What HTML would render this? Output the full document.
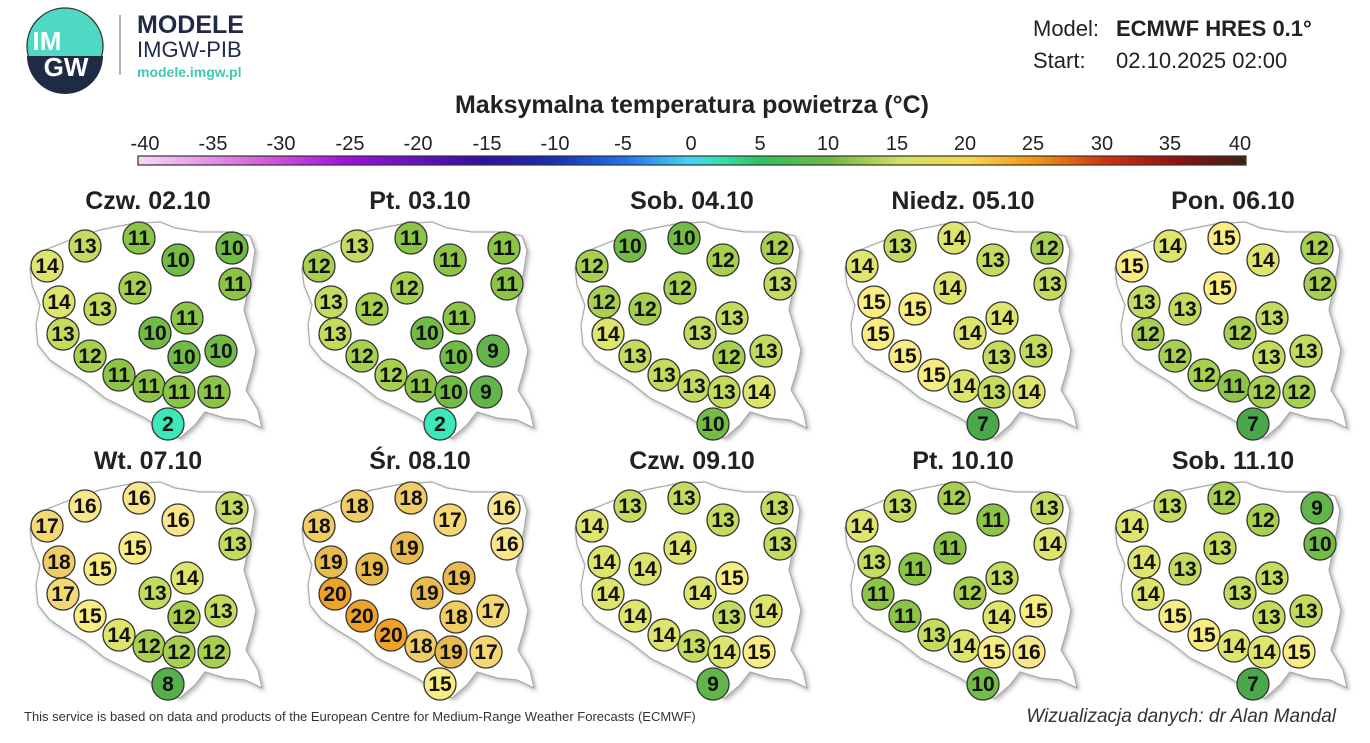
<!DOCTYPE html>
<html><head><meta charset="utf-8"><style>
body{margin:0;background:#fff;width:1370px;height:743px;overflow:hidden}
svg{display:block;font-family:"Liberation Sans",sans-serif}
circle{stroke:#333;stroke-width:1.3}
.v text{font-family:"Liberation Sans Narrow","Liberation Sans",sans-serif;font-weight:bold;font-size:21px;text-anchor:middle;fill:#111}
.c2{fill:#3de8b8}.c7{fill:#4aa84a}.c8{fill:#55b04a}.c9{fill:#62b548}.c10{fill:#72bb44}.c11{fill:#8cc545}.c12{fill:#a7d04f}.c13{fill:#c3dc5e}.c14{fill:#dfe56c}.c15{fill:#f8ec82}.c16{fill:#fae68a}.c17{fill:#f5d872}.c18{fill:#f0cc62}.c19{fill:#e9bb4c}.c20{fill:#f0a228}
.t{font-weight:bold;font-size:25px;text-anchor:middle;fill:#222}
.tk{font-size:20px;text-anchor:middle;fill:#222}
</style></head><body>
<svg width="1370" height="743" viewBox="0 0 1370 743">
<defs>
<linearGradient id="g" x1="0" x2="1">
<stop offset="0" stop-color="#f8d8f5"/><stop offset="0.125" stop-color="#d050d8"/><stop offset="0.1875" stop-color="#a010e0"/><stop offset="0.3125" stop-color="#3010a0"/><stop offset="0.375" stop-color="#1830b0"/><stop offset="0.4375" stop-color="#2070f0"/><stop offset="0.5" stop-color="#40d8f0"/><stop offset="0.53" stop-color="#30e0a0"/><stop offset="0.5625" stop-color="#30c060"/><stop offset="0.625" stop-color="#70b840"/><stop offset="0.6875" stop-color="#d0e060"/><stop offset="0.75" stop-color="#f5d848"/><stop offset="0.8125" stop-color="#f09010"/><stop offset="0.875" stop-color="#d03010"/><stop offset="0.9375" stop-color="#901010"/><stop offset="1" stop-color="#3a2418"/>
</linearGradient>
<filter id="sh" x="-10%" y="-10%" width="120%" height="120%"><feDropShadow dx="2" dy="2" stdDeviation="2" flood-color="#888" flood-opacity="0.6"/></filter>
<path id="pl" d="M30,268 L40,252 L70,240 L100,230 L130,224 L160,222 L175,228 L200,232 L230,232 L250,236 L255,250 L252,270 L248,290 L244,310 L250,330 L256,350 L252,370 L246,390 L258,410 L262,428 L245,420 L225,418 L205,412 L195,425 L180,438 L160,428 L145,418 L125,408 L105,398 L85,382 L65,370 L50,360 L38,345 L36,325 L40,305 L32,285 Z"/>
</defs>
<circle cx="65" cy="46" r="38" fill="#4fd8c4" stroke="none"/>
<path d="M27,56 A38,38 0 0 0 103,56 Z" fill="#1f2a44"/>
<text x="47" y="50" font-size="26" font-weight="bold" fill="#fff" text-anchor="middle">IM</text>
<text x="66" y="76" font-size="26" font-weight="bold" fill="#fff" text-anchor="middle">GW</text>
<line x1="120" y1="15" x2="120" y2="75" stroke="#999" stroke-width="1.5"/>
<text x="137" y="33" font-size="25" font-weight="bold" fill="#1f2a44">MODELE</text>
<text x="137" y="57" font-size="22" fill="#1f2a44">IMGW-PIB</text>
<text x="137" y="77" font-size="14" font-weight="bold" fill="#40c8b0">modele.imgw.pl</text>
<text x="1033" y="36" font-size="22" fill="#222">Model:</text>
<text x="1116" y="36" font-size="22" font-weight="bold" fill="#222">ECMWF HRES 0.1°</text>
<text x="1033" y="68" font-size="22" fill="#222">Start:</text>
<text x="1116" y="68" font-size="22" fill="#222">02.10.2025 02:00</text>
<text x="692" y="113" font-size="25" font-weight="bold" fill="#222" text-anchor="middle">Maksymalna temperatura powietrza (°C)</text>
<rect x="138" y="156" width="1108" height="9" fill="url(#g)" stroke="#333" stroke-width="1.2"/>
<g class="tk">
<text x="145" y="150">-40</text><text x="213" y="150">-35</text><text x="281" y="150">-30</text><text x="350" y="150">-25</text><text x="418" y="150">-20</text><text x="487" y="150">-15</text><text x="555" y="150">-10</text><text x="623" y="150">-5</text><text x="691" y="150">0</text><text x="760" y="150">5</text><text x="828" y="150">10</text><text x="897" y="150">15</text><text x="965" y="150">20</text><text x="1033" y="150">25</text><text x="1102" y="150">30</text><text x="1170" y="150">35</text><text x="1240" y="150">40</text>
</g>
<g class="t">
<text x="148" y="209">Czw. 02.10</text><text x="420" y="209">Pt. 03.10</text><text x="692" y="209">Sob. 04.10</text><text x="963" y="209">Niedz. 05.10</text><text x="1233" y="209">Pon. 06.10</text>
<text x="148" y="469">Wt. 07.10</text><text x="420" y="469">Śr. 08.10</text><text x="692" y="469">Czw. 09.10</text><text x="963" y="469">Pt. 10.10</text><text x="1233" y="469">Sob. 11.10</text>
</g>
<g fill="#fff" stroke="#aaa" stroke-width="1.2" filter="url(#sh)">
<use href="#pl"/><use href="#pl" transform="translate(272,0)"/><use href="#pl" transform="translate(545,0)"/><use href="#pl" transform="translate(815,0)"/><use href="#pl" transform="translate(1085,0)"/>
<use href="#pl" transform="translate(0,260)"/><use href="#pl" transform="translate(272,260)"/><use href="#pl" transform="translate(545,260)"/><use href="#pl" transform="translate(815,260)"/><use href="#pl" transform="translate(1085,260)"/>
</g>

<g class="v">
<circle class="c13" cx="85" cy="246" r="16"/><text x="85" y="253">13</text><circle class="c11" cx="139" cy="238" r="16"/><text x="139" y="245">11</text><circle class="c10" cx="178" cy="260" r="16"/><text x="178" y="267">10</text><circle class="c10" cx="232" cy="248" r="16"/><text x="232" y="255">10</text><circle class="c14" cx="47" cy="266" r="16"/><text x="47" y="273">14</text><circle class="c11" cx="235" cy="284" r="16"/><text x="235" y="291">11</text><circle class="c12" cx="135" cy="288" r="16"/><text x="135" y="295">12</text><circle class="c14" cx="59" cy="302" r="16"/><text x="59" y="309">14</text><circle class="c13" cx="100" cy="309" r="16"/><text x="100" y="316">13</text><circle class="c11" cx="187" cy="318" r="16"/><text x="187" y="325">11</text><circle class="c13" cx="63" cy="334" r="16"/><text x="63" y="341">13</text><circle class="c10" cx="155" cy="333" r="16"/><text x="155" y="340">10</text><circle class="c10" cx="184" cy="357" r="16"/><text x="184" y="364">10</text><circle class="c10" cx="221" cy="351" r="16"/><text x="221" y="358">10</text><circle class="c12" cx="90" cy="356" r="16"/><text x="90" y="363">12</text><circle class="c11" cx="119" cy="375" r="16"/><text x="119" y="382">11</text><circle class="c11" cx="149" cy="386" r="16"/><text x="149" y="393">11</text><circle class="c11" cx="179" cy="392" r="16"/><text x="179" y="399">11</text><circle class="c11" cx="214" cy="392" r="16"/><text x="214" y="399">11</text><circle class="c2" cx="168" cy="424" r="16"/><text x="168" y="431">2</text>
</g>
<g class="v" transform="translate(272,0)">
<circle class="c13" cx="85" cy="246" r="16"/><text x="85" y="253">13</text><circle class="c11" cx="139" cy="238" r="16"/><text x="139" y="245">11</text><circle class="c11" cx="178" cy="260" r="16"/><text x="178" y="267">11</text><circle class="c11" cx="232" cy="248" r="16"/><text x="232" y="255">11</text><circle class="c12" cx="47" cy="266" r="16"/><text x="47" y="273">12</text><circle class="c11" cx="235" cy="284" r="16"/><text x="235" y="291">11</text><circle class="c12" cx="135" cy="288" r="16"/><text x="135" y="295">12</text><circle class="c13" cx="59" cy="302" r="16"/><text x="59" y="309">13</text><circle class="c12" cx="100" cy="309" r="16"/><text x="100" y="316">12</text><circle class="c11" cx="187" cy="318" r="16"/><text x="187" y="325">11</text><circle class="c13" cx="63" cy="334" r="16"/><text x="63" y="341">13</text><circle class="c10" cx="155" cy="333" r="16"/><text x="155" y="340">10</text><circle class="c10" cx="184" cy="357" r="16"/><text x="184" y="364">10</text><circle class="c9" cx="221" cy="351" r="16"/><text x="221" y="358">9</text><circle class="c12" cx="90" cy="356" r="16"/><text x="90" y="363">12</text><circle class="c12" cx="119" cy="375" r="16"/><text x="119" y="382">12</text><circle class="c11" cx="149" cy="386" r="16"/><text x="149" y="393">11</text><circle class="c10" cx="179" cy="392" r="16"/><text x="179" y="399">10</text><circle class="c9" cx="214" cy="392" r="16"/><text x="214" y="399">9</text><circle class="c2" cx="168" cy="424" r="16"/><text x="168" y="431">2</text>
</g>
<g class="v" transform="translate(545,0)">
<circle class="c10" cx="85" cy="246" r="16"/><text x="85" y="253">10</text><circle class="c10" cx="139" cy="238" r="16"/><text x="139" y="245">10</text><circle class="c12" cx="178" cy="260" r="16"/><text x="178" y="267">12</text><circle class="c12" cx="232" cy="248" r="16"/><text x="232" y="255">12</text><circle class="c12" cx="47" cy="266" r="16"/><text x="47" y="273">12</text><circle class="c13" cx="235" cy="284" r="16"/><text x="235" y="291">13</text><circle class="c12" cx="135" cy="288" r="16"/><text x="135" y="295">12</text><circle class="c12" cx="59" cy="302" r="16"/><text x="59" y="309">12</text><circle class="c12" cx="100" cy="309" r="16"/><text x="100" y="316">12</text><circle class="c13" cx="187" cy="318" r="16"/><text x="187" y="325">13</text><circle class="c14" cx="63" cy="334" r="16"/><text x="63" y="341">14</text><circle class="c13" cx="155" cy="333" r="16"/><text x="155" y="340">13</text><circle class="c12" cx="184" cy="357" r="16"/><text x="184" y="364">12</text><circle class="c13" cx="221" cy="351" r="16"/><text x="221" y="358">13</text><circle class="c13" cx="90" cy="356" r="16"/><text x="90" y="363">13</text><circle class="c13" cx="119" cy="375" r="16"/><text x="119" y="382">13</text><circle class="c13" cx="149" cy="386" r="16"/><text x="149" y="393">13</text><circle class="c13" cx="179" cy="392" r="16"/><text x="179" y="399">13</text><circle class="c14" cx="214" cy="392" r="16"/><text x="214" y="399">14</text><circle class="c10" cx="168" cy="424" r="16"/><text x="168" y="431">10</text>
</g>
<g class="v" transform="translate(815,0)">
<circle class="c13" cx="85" cy="246" r="16"/><text x="85" y="253">13</text><circle class="c14" cx="139" cy="238" r="16"/><text x="139" y="245">14</text><circle class="c13" cx="178" cy="260" r="16"/><text x="178" y="267">13</text><circle class="c12" cx="232" cy="248" r="16"/><text x="232" y="255">12</text><circle class="c14" cx="47" cy="266" r="16"/><text x="47" y="273">14</text><circle class="c13" cx="235" cy="284" r="16"/><text x="235" y="291">13</text><circle class="c14" cx="135" cy="288" r="16"/><text x="135" y="295">14</text><circle class="c15" cx="59" cy="302" r="16"/><text x="59" y="309">15</text><circle class="c15" cx="100" cy="309" r="16"/><text x="100" y="316">15</text><circle class="c14" cx="187" cy="318" r="16"/><text x="187" y="325">14</text><circle class="c15" cx="63" cy="334" r="16"/><text x="63" y="341">15</text><circle class="c14" cx="155" cy="333" r="16"/><text x="155" y="340">14</text><circle class="c13" cx="184" cy="357" r="16"/><text x="184" y="364">13</text><circle class="c13" cx="221" cy="351" r="16"/><text x="221" y="358">13</text><circle class="c15" cx="90" cy="356" r="16"/><text x="90" y="363">15</text><circle class="c15" cx="119" cy="375" r="16"/><text x="119" y="382">15</text><circle class="c14" cx="149" cy="386" r="16"/><text x="149" y="393">14</text><circle class="c13" cx="179" cy="392" r="16"/><text x="179" y="399">13</text><circle class="c14" cx="214" cy="392" r="16"/><text x="214" y="399">14</text><circle class="c7" cx="168" cy="424" r="16"/><text x="168" y="431">7</text>
</g>
<g class="v" transform="translate(1085,0)">
<circle class="c14" cx="85" cy="246" r="16"/><text x="85" y="253">14</text><circle class="c15" cx="139" cy="238" r="16"/><text x="139" y="245">15</text><circle class="c14" cx="178" cy="260" r="16"/><text x="178" y="267">14</text><circle class="c12" cx="232" cy="248" r="16"/><text x="232" y="255">12</text><circle class="c15" cx="47" cy="266" r="16"/><text x="47" y="273">15</text><circle class="c12" cx="235" cy="284" r="16"/><text x="235" y="291">12</text><circle class="c15" cx="135" cy="288" r="16"/><text x="135" y="295">15</text><circle class="c13" cx="59" cy="302" r="16"/><text x="59" y="309">13</text><circle class="c13" cx="100" cy="309" r="16"/><text x="100" y="316">13</text><circle class="c13" cx="187" cy="318" r="16"/><text x="187" y="325">13</text><circle class="c12" cx="63" cy="334" r="16"/><text x="63" y="341">12</text><circle class="c12" cx="155" cy="333" r="16"/><text x="155" y="340">12</text><circle class="c13" cx="184" cy="357" r="16"/><text x="184" y="364">13</text><circle class="c13" cx="221" cy="351" r="16"/><text x="221" y="358">13</text><circle class="c12" cx="90" cy="356" r="16"/><text x="90" y="363">12</text><circle class="c12" cx="119" cy="375" r="16"/><text x="119" y="382">12</text><circle class="c11" cx="149" cy="386" r="16"/><text x="149" y="393">11</text><circle class="c12" cx="179" cy="392" r="16"/><text x="179" y="399">12</text><circle class="c12" cx="214" cy="392" r="16"/><text x="214" y="399">12</text><circle class="c7" cx="168" cy="424" r="16"/><text x="168" y="431">7</text>
</g>
<g class="v" transform="translate(0,260)">
<circle class="c16" cx="85" cy="246" r="16"/><text x="85" y="253">16</text><circle class="c16" cx="139" cy="238" r="16"/><text x="139" y="245">16</text><circle class="c16" cx="178" cy="260" r="16"/><text x="178" y="267">16</text><circle class="c13" cx="232" cy="248" r="16"/><text x="232" y="255">13</text><circle class="c17" cx="47" cy="266" r="16"/><text x="47" y="273">17</text><circle class="c13" cx="235" cy="284" r="16"/><text x="235" y="291">13</text><circle class="c15" cx="135" cy="288" r="16"/><text x="135" y="295">15</text><circle class="c18" cx="59" cy="302" r="16"/><text x="59" y="309">18</text><circle class="c15" cx="100" cy="309" r="16"/><text x="100" y="316">15</text><circle class="c14" cx="187" cy="318" r="16"/><text x="187" y="325">14</text><circle class="c17" cx="63" cy="334" r="16"/><text x="63" y="341">17</text><circle class="c13" cx="155" cy="333" r="16"/><text x="155" y="340">13</text><circle class="c12" cx="184" cy="357" r="16"/><text x="184" y="364">12</text><circle class="c13" cx="221" cy="351" r="16"/><text x="221" y="358">13</text><circle class="c15" cx="90" cy="356" r="16"/><text x="90" y="363">15</text><circle class="c14" cx="119" cy="375" r="16"/><text x="119" y="382">14</text><circle class="c12" cx="149" cy="386" r="16"/><text x="149" y="393">12</text><circle class="c12" cx="179" cy="392" r="16"/><text x="179" y="399">12</text><circle class="c12" cx="214" cy="392" r="16"/><text x="214" y="399">12</text><circle class="c8" cx="168" cy="424" r="16"/><text x="168" y="431">8</text>
</g>
<g class="v" transform="translate(272,260)">
<circle class="c18" cx="85" cy="246" r="16"/><text x="85" y="253">18</text><circle class="c18" cx="139" cy="238" r="16"/><text x="139" y="245">18</text><circle class="c17" cx="178" cy="260" r="16"/><text x="178" y="267">17</text><circle class="c16" cx="232" cy="248" r="16"/><text x="232" y="255">16</text><circle class="c18" cx="47" cy="266" r="16"/><text x="47" y="273">18</text><circle class="c16" cx="235" cy="284" r="16"/><text x="235" y="291">16</text><circle class="c19" cx="135" cy="288" r="16"/><text x="135" y="295">19</text><circle class="c19" cx="59" cy="302" r="16"/><text x="59" y="309">19</text><circle class="c19" cx="100" cy="309" r="16"/><text x="100" y="316">19</text><circle class="c19" cx="187" cy="318" r="16"/><text x="187" y="325">19</text><circle class="c20" cx="63" cy="334" r="16"/><text x="63" y="341">20</text><circle class="c19" cx="155" cy="333" r="16"/><text x="155" y="340">19</text><circle class="c18" cx="184" cy="357" r="16"/><text x="184" y="364">18</text><circle class="c17" cx="221" cy="351" r="16"/><text x="221" y="358">17</text><circle class="c20" cx="90" cy="356" r="16"/><text x="90" y="363">20</text><circle class="c20" cx="119" cy="375" r="16"/><text x="119" y="382">20</text><circle class="c18" cx="149" cy="386" r="16"/><text x="149" y="393">18</text><circle class="c19" cx="179" cy="392" r="16"/><text x="179" y="399">19</text><circle class="c17" cx="214" cy="392" r="16"/><text x="214" y="399">17</text><circle class="c15" cx="168" cy="424" r="16"/><text x="168" y="431">15</text>
</g>
<g class="v" transform="translate(545,260)">
<circle class="c13" cx="85" cy="246" r="16"/><text x="85" y="253">13</text><circle class="c13" cx="139" cy="238" r="16"/><text x="139" y="245">13</text><circle class="c13" cx="178" cy="260" r="16"/><text x="178" y="267">13</text><circle class="c13" cx="232" cy="248" r="16"/><text x="232" y="255">13</text><circle class="c14" cx="47" cy="266" r="16"/><text x="47" y="273">14</text><circle class="c13" cx="235" cy="284" r="16"/><text x="235" y="291">13</text><circle class="c14" cx="135" cy="288" r="16"/><text x="135" y="295">14</text><circle class="c14" cx="59" cy="302" r="16"/><text x="59" y="309">14</text><circle class="c14" cx="100" cy="309" r="16"/><text x="100" y="316">14</text><circle class="c15" cx="187" cy="318" r="16"/><text x="187" y="325">15</text><circle class="c14" cx="63" cy="334" r="16"/><text x="63" y="341">14</text><circle class="c14" cx="155" cy="333" r="16"/><text x="155" y="340">14</text><circle class="c13" cx="184" cy="357" r="16"/><text x="184" y="364">13</text><circle class="c14" cx="221" cy="351" r="16"/><text x="221" y="358">14</text><circle class="c14" cx="90" cy="356" r="16"/><text x="90" y="363">14</text><circle class="c14" cx="119" cy="375" r="16"/><text x="119" y="382">14</text><circle class="c13" cx="149" cy="386" r="16"/><text x="149" y="393">13</text><circle class="c14" cx="179" cy="392" r="16"/><text x="179" y="399">14</text><circle class="c15" cx="214" cy="392" r="16"/><text x="214" y="399">15</text><circle class="c9" cx="168" cy="424" r="16"/><text x="168" y="431">9</text>
</g>
<g class="v" transform="translate(815,260)">
<circle class="c13" cx="85" cy="246" r="16"/><text x="85" y="253">13</text><circle class="c12" cx="139" cy="238" r="16"/><text x="139" y="245">12</text><circle class="c11" cx="178" cy="260" r="16"/><text x="178" y="267">11</text><circle class="c13" cx="232" cy="248" r="16"/><text x="232" y="255">13</text><circle class="c14" cx="47" cy="266" r="16"/><text x="47" y="273">14</text><circle class="c14" cx="235" cy="284" r="16"/><text x="235" y="291">14</text><circle class="c11" cx="135" cy="288" r="16"/><text x="135" y="295">11</text><circle class="c13" cx="59" cy="302" r="16"/><text x="59" y="309">13</text><circle class="c11" cx="100" cy="309" r="16"/><text x="100" y="316">11</text><circle class="c13" cx="187" cy="318" r="16"/><text x="187" y="325">13</text><circle class="c11" cx="63" cy="334" r="16"/><text x="63" y="341">11</text><circle class="c12" cx="155" cy="333" r="16"/><text x="155" y="340">12</text><circle class="c14" cx="184" cy="357" r="16"/><text x="184" y="364">14</text><circle class="c15" cx="221" cy="351" r="16"/><text x="221" y="358">15</text><circle class="c11" cx="90" cy="356" r="16"/><text x="90" y="363">11</text><circle class="c13" cx="119" cy="375" r="16"/><text x="119" y="382">13</text><circle class="c14" cx="149" cy="386" r="16"/><text x="149" y="393">14</text><circle class="c15" cx="179" cy="392" r="16"/><text x="179" y="399">15</text><circle class="c16" cx="214" cy="392" r="16"/><text x="214" y="399">16</text><circle class="c10" cx="168" cy="424" r="16"/><text x="168" y="431">10</text>
</g>
<g class="v" transform="translate(1085,260)">
<circle class="c13" cx="85" cy="246" r="16"/><text x="85" y="253">13</text><circle class="c12" cx="139" cy="238" r="16"/><text x="139" y="245">12</text><circle class="c12" cx="178" cy="260" r="16"/><text x="178" y="267">12</text><circle class="c9" cx="232" cy="248" r="16"/><text x="232" y="255">9</text><circle class="c14" cx="47" cy="266" r="16"/><text x="47" y="273">14</text><circle class="c10" cx="235" cy="284" r="16"/><text x="235" y="291">10</text><circle class="c13" cx="135" cy="288" r="16"/><text x="135" y="295">13</text><circle class="c14" cx="59" cy="302" r="16"/><text x="59" y="309">14</text><circle class="c13" cx="100" cy="309" r="16"/><text x="100" y="316">13</text><circle class="c13" cx="187" cy="318" r="16"/><text x="187" y="325">13</text><circle class="c14" cx="63" cy="334" r="16"/><text x="63" y="341">14</text><circle class="c13" cx="155" cy="333" r="16"/><text x="155" y="340">13</text><circle class="c13" cx="184" cy="357" r="16"/><text x="184" y="364">13</text><circle class="c13" cx="221" cy="351" r="16"/><text x="221" y="358">13</text><circle class="c15" cx="90" cy="356" r="16"/><text x="90" y="363">15</text><circle class="c15" cx="119" cy="375" r="16"/><text x="119" y="382">15</text><circle class="c14" cx="149" cy="386" r="16"/><text x="149" y="393">14</text><circle class="c14" cx="179" cy="392" r="16"/><text x="179" y="399">14</text><circle class="c15" cx="214" cy="392" r="16"/><text x="214" y="399">15</text><circle class="c7" cx="168" cy="424" r="16"/><text x="168" y="431">7</text>
</g>
<text x="24" y="721" font-size="13" fill="#333">This service is based on data and products of the European Centre for Medium-Range Weather Forecasts (ECMWF)</text>
<text x="1336" y="722" font-size="19" font-style="italic" fill="#333" text-anchor="end">Wizualizacja danych: dr Alan Mandal</text>
</svg>
</body></html>
